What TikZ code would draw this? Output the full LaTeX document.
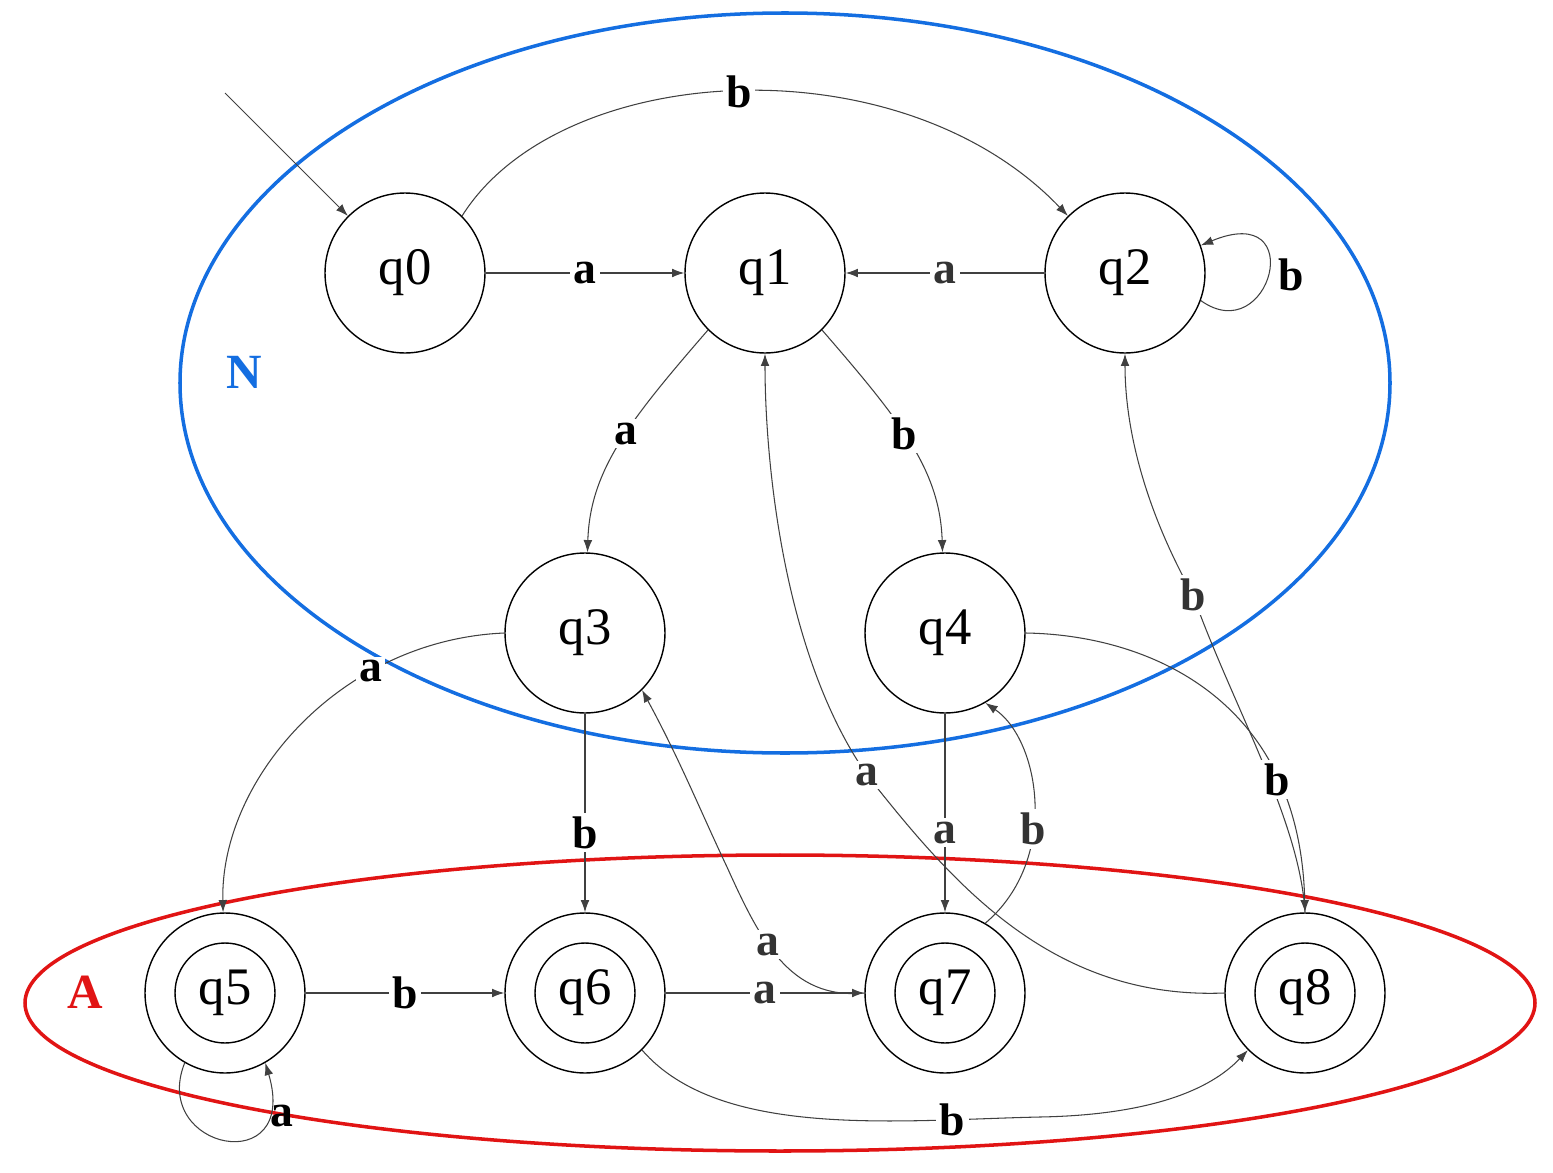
\documentclass[tikz,border=0pt]{standalone}
\usepackage{fontspec}
\setmainfont{Liberation Serif}
\usetikzlibrary{arrows.meta}
\begin{document}
\begin{tikzpicture}[x=0.02cm,y=-0.02cm,
 st/.style={circle,draw,line width=0.8pt,minimum size=3.2cm,inner sep=0pt,font=\fontsize{30}{30}\selectfont},
 acc/.style={st,double,double distance=0pt},
 e/.style={draw=black!75,line width=0.6pt,-{Latex[length=7pt,width=5pt]}},
 lb/.style={fill=white,inner sep=2pt,font=\bfseries\fontsize{26}{26}\selectfont},
 lg/.style={lb,text=black!80}]
\useasboundingbox (0,0) rectangle (1553,1173);
\draw[color={rgb,255:red,20;green,110;blue,225},line width=2pt] (785,383) ellipse [x radius=605,y radius=370];
\draw[color={rgb,255:red,225;green,20;blue,20},line width=2pt] (780,1003) ellipse [x radius=755,y radius=148];
\node[text={rgb,255:red,20;green,110;blue,225},font=\bfseries\fontsize{28}{28}\selectfont] (N) at (244,372) {N};
\node[text={rgb,255:red,225;green,20;blue,20},font=\bfseries\fontsize{28}{28}\selectfont] (A) at (85,992) {A};
\node[st] (q0) at (405,273) {q0};
\node[st] (q1) at (765,273) {q1};
\node[st] (q2) at (1125,273) {q2};
\node[st] (q3) at (585,633) {q3};
\node[st] (q4) at (945,633) {q4};
\foreach \n/\x in {5/225,6/585,7/945,8/1305}{
 \node[st] (q\n) at (\x,993) {};
 \node[circle,draw,line width=0.8pt,minimum size=2cm,inner sep=0pt,font=\fontsize{30}{30}\selectfont] (i\n) at (\x,993) {q\n};}
\coordinate (s) at (225,93);
\draw[e] (s) -- (q0);
\draw[e] (q0) -- node[lb]{a} (q1);
\draw[e] (q2) -- node[lg]{a} (q1);
\draw[e] (q0.45) .. controls (560,60) and (900,40) .. node[lb,pos=0.5]{b} (q2.135);
\draw[e] (q2.-20) .. controls (1270,350) and (1310,200) .. node[lb,right,fill=none,xshift=4pt]{b} (q2.20);
\draw[e] (q1.-135) .. controls (630,420) and (590,470) .. node[lb,pos=0.45]{a} (q3);
\draw[e] (q1.-45) .. controls (900,420) and (940,470) .. node[lb,pos=0.45]{b} (q4);
\draw[e] (q3.west) .. controls (340,640) and (220,780) .. node[lb,pos=0.3]{a} (q5);
\draw[e] (q3) -- node[lb,pos=0.6]{b} (q6);
\draw[e] (q4) -- node[lg,pos=0.6]{a} (q7);
\draw[e] (q7.60) .. controls (1060,860) and (1040,740) .. node[lg,pos=0.4]{b} (q4.-60);
\draw[e] (q5) -- node[lb]{b} (q6);
\draw[e] (q6) -- node[lg]{a} (q7);
\draw[e] (q5.-120) .. controls (150,1150) and (300,1180) .. node[lb,pos=0.8,right,fill=none]{a} (q5.-60);
\draw[e] (q6.-45) .. controls (720,1140) and (900,1120) .. node[lb,pos=0.8]{b} (1040,1117) .. controls (1150,1115) and (1210,1090) .. (q8.-135);
\draw[e] (q7.west) .. controls (790,1000) and (760,940) .. node[lg,pos=0.6]{a} (727,867) .. controls (700,810) and (680,760) .. (q3.-45);
\draw[e] (q8.west) .. controls (1050,1000) and (950,880) .. node[lg,pos=1]{a} (867,775) .. controls (780,650) and (765,450) .. (q1.south);
\draw[e] (q8.north) .. controls (1300,820) and (1230,700) .. node[lg,pos=1]{b} (1193,595) .. controls (1140,500) and (1125,420) .. (q2.south);
\draw[e] (q4.east) .. controls (1150,635) and (1300,700) .. node[lb,pos=0.75]{b} (q8.north);
\end{tikzpicture}
\end{document}
